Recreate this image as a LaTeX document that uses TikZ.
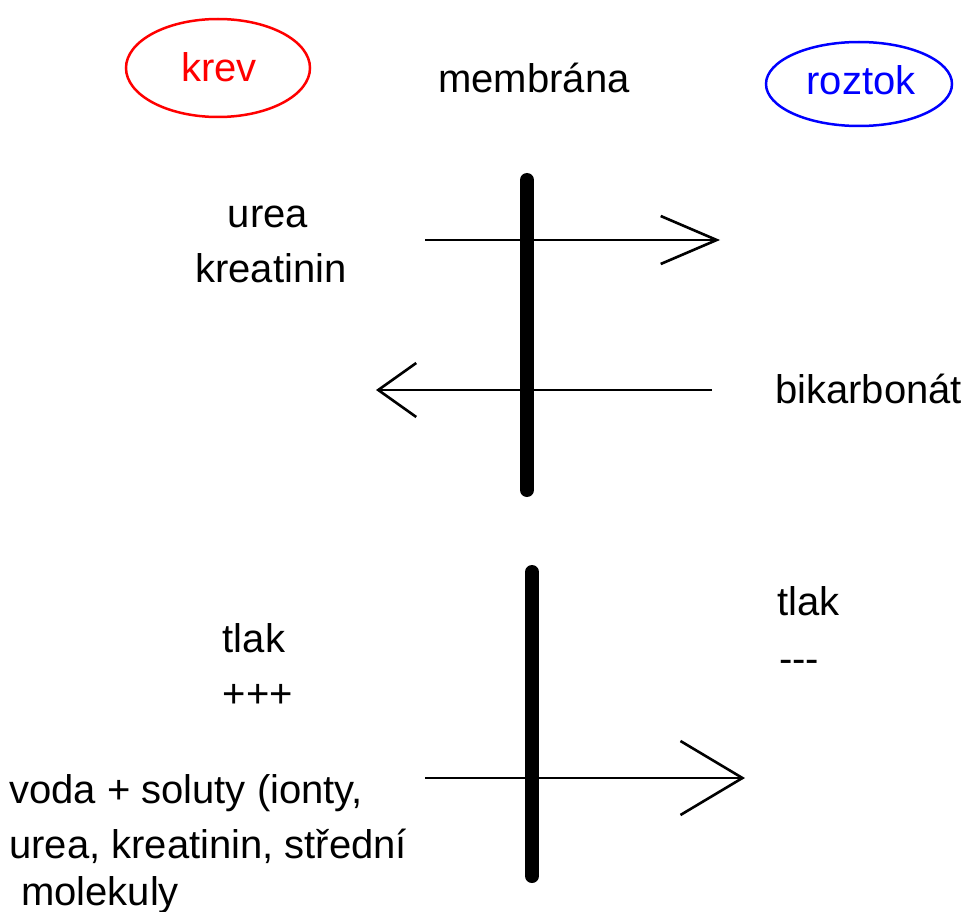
\documentclass[tikz,border=0pt]{standalone}
\usepackage{fontspec}
\setmainfont{Liberation Sans}
\usetikzlibrary{arrows.meta,shapes.geometric}
\begin{document}
\begin{tikzpicture}[x=1pt,y=-1pt,
  txt/.style={font=\fontsize{40}{48}\selectfont, inner sep=0pt, anchor=base},
  txtl/.style={txt, anchor=base west},
  oval/.style={ellipse, line width=2.5pt, minimum width=184pt, minimum height=98pt, inner sep=0pt},
  membr/.style={line width=14pt, line cap=round},
  flow/.style={line width=2.6pt}
]
\useasboundingbox[fill=white] (0,0) rectangle (967,912);

% header
\node[oval, draw=red] (krevE) at (218,68) {};
\node[txt, text=red] (krev) at (219,82) {krev};
\node[txt] (membrana) at (534,93) {membrána};
\node[oval, draw=blue, minimum width=186pt, minimum height=84pt] (roztokE) at (859,84) {};
\node[txt, text=blue] (roztok) at (861,95) {roztok};

% upper membrane
\coordinate (m1t) at (527,180);
\coordinate (m1b) at (527,490);
\draw[membr] (m1t) -- (m1b);

\node[txt] (urea) at (268,228) {urea};
\node[txt] (kreat) at (271,283) {kreatinin};
\node[txtl] (bikarb) at (775,403) {bikarbonát};

\coordinate (a1s) at (425,240);
\coordinate (a1e) at (720,240);
\draw[flow, -{Straight Barb[length=56pt,width=48pt,line width=2.6pt]}] (a1s) -- (a1e);
\coordinate (a2s) at (712,390);
\coordinate (a2e) at (376,390);
\draw[flow, -{Straight Barb[length=38pt,width=54pt,line width=2.6pt]}] (a2s) -- (a2e);

% lower membrane
\coordinate (m2t) at (532,572);
\coordinate (m2b) at (532,876);
\draw[membr] (m2t) -- (m2b);

\node[txt] (tlakL) at (254,652) {tlak};
\node[txt] (plus) at (258,707) {+++};
\node[txtl] (tlakR) at (777,615) {tlak};
\node[txtl] (minus) at (779,672) {{-}{-}{-}};

\node[txtl] (voda1) at (9,803) {voda + soluty (ionty,};
\node[txtl] (voda2) at (9,858) {urea, kreatinin, střední};
\node[txtl] (voda3) at (21,905) {molekuly};

\coordinate (a3s) at (425,778);
\coordinate (a3e) at (745,778);
\draw[flow, -{Straight Barb[length=62pt,width=74pt,line width=2.6pt]}] (a3s) -- (a3e);
\end{tikzpicture}
\end{document}
